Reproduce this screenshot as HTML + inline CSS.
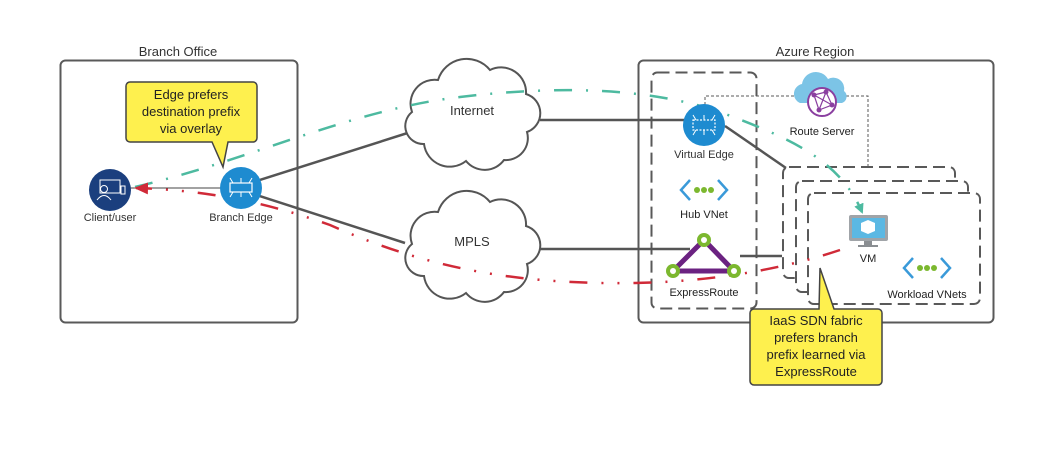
<!DOCTYPE html>
<html><head><meta charset="utf-8"><style>
html,body{margin:0;padding:0;background:#fff;}
svg{display:block;font-family:"Liberation Sans",Arial,sans-serif;}
</style></head><body>
<svg width="1040" height="453" viewBox="0 0 1040 453" xmlns="http://www.w3.org/2000/svg">
<defs>
<marker id="ta" markerWidth="10" markerHeight="10" refX="8" refY="5" orient="auto" markerUnits="userSpaceOnUse"><path d="M0,0 L10,5 L0,10 Z" fill="#4dbaa0"/></marker>
<marker id="ra" markerWidth="14" markerHeight="12" refX="12" refY="6" orient="auto" markerUnits="userSpaceOnUse"><path d="M0,0 L14,6 L0,12 Z" fill="#d02a38"/></marker>
</defs>

<rect x="60.5" y="60.5" width="237" height="262" rx="5" fill="none" stroke="#595959" stroke-width="2"/>
<text x="178" y="56" font-size="13" text-anchor="middle" fill="#333">Branch Office</text>
<rect x="638.5" y="60.5" width="355" height="262" rx="5" fill="none" stroke="#595959" stroke-width="2"/>
<text x="815" y="56" font-size="13" text-anchor="middle" fill="#333">Azure Region</text>

<rect x="651.5" y="72.5" width="105" height="236" rx="6" fill="none" stroke="#595959" stroke-width="2" stroke-dasharray="12,6"/>

<path d="M705,105 V96 H868 V168" fill="none" stroke="#595959" stroke-width="1" stroke-dasharray="3,2"/>

<line x1="110" y1="188" x2="241" y2="188" stroke="#444" stroke-width="1"/>
<line x1="241" y1="186" x2="417" y2="130" stroke="#555" stroke-width="2.5"/>
<line x1="241" y1="190" x2="405" y2="243" stroke="#555" stroke-width="2.5"/>
<line x1="540" y1="120" x2="690" y2="120" stroke="#555" stroke-width="2.5"/>
<line x1="540" y1="249" x2="690" y2="249" stroke="#555" stroke-width="2.5"/>
<line x1="725" y1="126" x2="786" y2="168" stroke="#555" stroke-width="2.5"/>
<line x1="740" y1="256" x2="782" y2="256" stroke="#555" stroke-width="2.5"/>

<rect x="783" y="167" width="172" height="111" rx="6" fill="#fff" stroke="#595959" stroke-width="2" stroke-dasharray="12,6"/>
<rect x="796" y="181" width="172" height="111" rx="6" fill="#fff" stroke="#595959" stroke-width="2" stroke-dasharray="12,6"/>
<rect x="808" y="193" width="172" height="111" rx="6" fill="#fff" stroke="#595959" stroke-width="2" stroke-dasharray="12,6"/>

<g transform="translate(402,60)">
<path d="M22,84 A18,18 0 0 1 10,52 A24,24 0 0 1 36,20 A30,30 0 0 1 88,10 A25,25 0 0 1 124,34 A20,20 0 0 1 125,72 A22,22 0 0 1 102,100 A24,24 0 0 1 64,101 A26,26 0 0 1 22,84 Z" fill="#fff" stroke="#555" stroke-width="2"/>
<text x="70" y="55" font-size="13" text-anchor="middle" fill="#333">Internet</text>
</g>
<g transform="translate(402,192)">
<path d="M22,84 A18,18 0 0 1 10,52 A24,24 0 0 1 36,20 A30,30 0 0 1 88,10 A25,25 0 0 1 124,34 A20,20 0 0 1 125,72 A22,22 0 0 1 102,100 A24,24 0 0 1 64,101 A26,26 0 0 1 22,84 Z" fill="#fff" stroke="#555" stroke-width="2"/>
<text x="70" y="54" font-size="13" text-anchor="middle" fill="#333">MPLS</text>
</g>

<path d="M135,187 C250,160 350,110 460,97 C560,85 650,88 720,112 C790,138 840,160 862,212" fill="none" stroke="#4dbaa0" stroke-width="2.5" stroke-dasharray="18,14,2,14" marker-end="url(#ta)"/>
<path d="M840,250 C780,270 700,285 600,283 C500,281 420,265 330,225 C260,200 200,190 136,188" fill="none" stroke="#d02a38" stroke-width="2.5" stroke-dasharray="18,14,2,14,2,14" marker-end="url(#ra)"/>

<path d="M130,82 H253 a4,4 0 0 1 4,4 V138 a4,4 0 0 1 -4,4 H228 L223,167 L212,142 H130 a4,4 0 0 1 -4,-4 V86 a4,4 0 0 1 4,-4 Z" fill="#fef04e" stroke="#444" stroke-width="1.5"/>
<text font-size="13" text-anchor="middle" fill="#222"><tspan x="191" y="99">Edge prefers</tspan><tspan x="191" y="116">destination prefix</tspan><tspan x="191" y="133">via overlay</tspan></text>
<path d="M754,309 H819 L820,268 L834,309 H878 a4,4 0 0 1 4,4 V381 a4,4 0 0 1 -4,4 H754 a4,4 0 0 1 -4,-4 V313 a4,4 0 0 1 4,-4 Z" fill="#fef04e" stroke="#444" stroke-width="1.5"/>
<text font-size="13" text-anchor="middle" fill="#222"><tspan x="816" y="325">IaaS SDN fabric</tspan><tspan x="816" y="342">prefers branch</tspan><tspan x="816" y="359">prefix learned via</tspan><tspan x="816" y="376">ExpressRoute</tspan></text>

<circle cx="110" cy="190" r="21" fill="#1b3f7e"/>
<rect x="100" y="180" width="20" height="13" fill="none" stroke="#fff" stroke-width="1"/>
<circle cx="104" cy="189" r="3.5" fill="#1b3f7e" stroke="#fff" stroke-width="1"/>
<path d="M97,200 q7,-9 14,0" fill="none" stroke="#fff" stroke-width="1"/>
<rect x="121" y="186" width="4" height="8" fill="none" stroke="#fff" stroke-width="1"/>
<text x="110" y="221" font-size="11" text-anchor="middle" fill="#333">Client/user</text>

<circle cx="241" cy="188" r="21" fill="#1e8bd0"/>
<rect x="230" y="183" width="22" height="9" fill="none" stroke="#fff" stroke-width="1.2"/>
<path d="M233,183 l-3,-5 M241,183 v-5 M249,183 l3,-5 M233,192 l-3,5 M241,192 v5 M249,192 l3,5" stroke="#fff" stroke-width="1"/>
<text x="241" y="221" font-size="11" text-anchor="middle" fill="#333">Branch Edge</text>

<circle cx="704" cy="125" r="21" fill="#1e8bd0"/>
<rect x="693" y="120" width="22" height="10" fill="none" stroke="#fff" stroke-width="1.2" stroke-dasharray="2,1.5"/>
<path d="M696,120 l-3,-5 M704,120 v-5 M712,120 l3,-5 M696,130 l-3,5 M704,130 v5 M712,130 l3,5" stroke="#fff" stroke-width="1"/>
<text x="704" y="158" font-size="11" text-anchor="middle" fill="#333">Virtual Edge</text>

<path d="M690,180 l-9,10 l9,10 M718,180 l9,10 l-9,10" fill="none" stroke="#3a9ad9" stroke-width="2.5"/>
<circle cx="697" cy="190" r="3" fill="#7cb82f"/><circle cx="704" cy="190" r="3" fill="#7cb82f"/><circle cx="711" cy="190" r="3" fill="#7cb82f"/>
<text x="704" y="218" font-size="11" text-anchor="middle" fill="#222">Hub VNet</text>

<path d="M704,240 L673,271 L734,271 Z" fill="none" stroke="#6b2281" stroke-width="5"/>
<circle cx="704" cy="240" r="7" fill="#7cb82f"/><circle cx="704" cy="240" r="3" fill="#fff"/>
<circle cx="673" cy="271" r="7" fill="#7cb82f"/><circle cx="673" cy="271" r="3" fill="#fff"/>
<circle cx="734" cy="271" r="7" fill="#7cb82f"/><circle cx="734" cy="271" r="3" fill="#fff"/>
<text x="704" y="296" font-size="11" text-anchor="middle" fill="#222">ExpressRoute</text>

<path d="M800,103 a10,10 0 0 1 2,-19 a14,14 0 0 1 26,-5 a11,11 0 0 1 16,12 a7,7 0 0 1 -2,12 Z" fill="#7cc4e6"/>
<circle cx="822" cy="102" r="14" fill="#fff" stroke="#8a3fa0" stroke-width="2"/>
<path d="M814,95 L826,92 L832,105 L819,110 Z M814,95 L832,105 M826,92 L819,110" fill="none" stroke="#8a3fa0" stroke-width="1.2"/>
<circle cx="814" cy="95" r="2.5" fill="#8a3fa0"/><circle cx="826" cy="92" r="2.5" fill="#8a3fa0"/><circle cx="832" cy="105" r="2.5" fill="#8a3fa0"/><circle cx="819" cy="110" r="2.5" fill="#8a3fa0"/>
<text x="822" y="135" font-size="11" text-anchor="middle" fill="#222">Route Server</text>

<rect x="849" y="215" width="39" height="26" rx="2" fill="#a0a4a8"/>
<rect x="852" y="218" width="33" height="20" fill="#5bb8e3"/>
<path d="M868,220 l7,3 v8 l-7,3 l-7,-3 v-8 Z" fill="#fff"/>
<rect x="864" y="241" width="8" height="4" fill="#8a8e92"/>
<rect x="858" y="245" width="20" height="2" fill="#8a8e92"/>
<text x="868" y="262" font-size="11" text-anchor="middle" fill="#222">VM</text>

<path d="M913,258 l-9,10 l9,10 M941,258 l9,10 l-9,10" fill="none" stroke="#3a9ad9" stroke-width="2.5"/>
<circle cx="920" cy="268" r="3" fill="#7cb82f"/><circle cx="927" cy="268" r="3" fill="#7cb82f"/><circle cx="934" cy="268" r="3" fill="#7cb82f"/>
<text x="927" y="298" font-size="11" text-anchor="middle" fill="#222">Workload VNets</text>
</svg>
</body></html>
